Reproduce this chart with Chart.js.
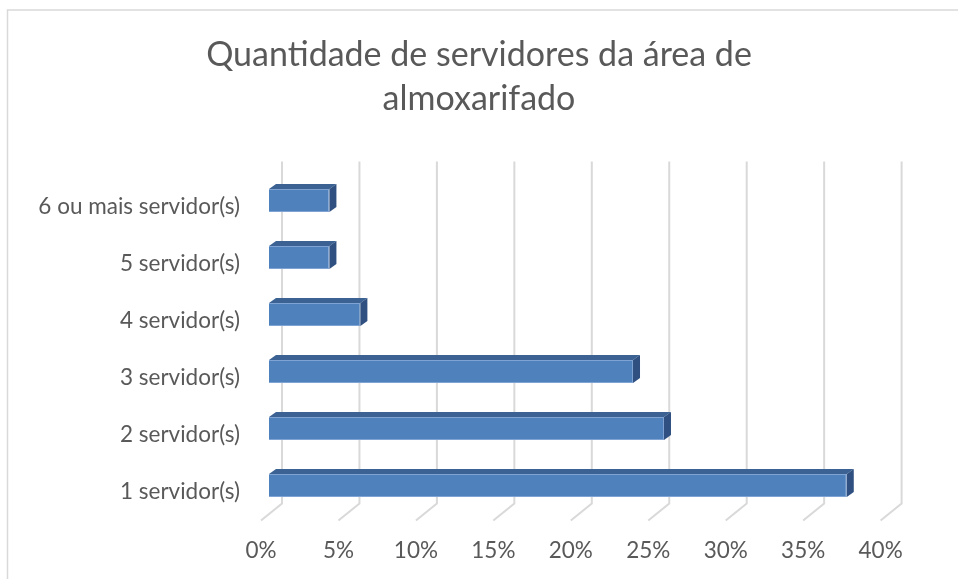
<!DOCTYPE html>
<html>
<head>
<meta charset="utf-8">
<script src="https://cdn.jsdelivr.net/npm/chart.js@4/dist/chart.umd.min.js"></script>
<style>
  html, body { margin: 0; padding: 0; background: #ffffff; }
  #wrap { width: 958px; height: 579px; position: relative; }
</style>
</head>
<body>
<div id="wrap"><canvas id="c" width="958" height="579"></canvas></div>
<script>
// ---- data ----
const categories = ['1 servidor(s)', '2 servidor(s)', '3 servidor(s)', '4 servidor(s)', '5 servidor(s)', '6 ou mais servidor(s)'];
const percentValues = [37.3, 25.5, 23.5, 5.9, 3.9, 3.9];
const xTickMin = 0;
const xTickMax = 40;
const xTickStep = 5;
const titleLines = ['Quantidade de servidores da área de', 'almoxarifado'];

// ---- style ----
const TEXT = '#595959';
const FONT = 'Lato, "Open Sans", "Noto Sans", sans-serif';
const BACK = { dx: 13, dy: -10.5 };   // back wall offset from bar plane
const FRONT = { dx: -8, dy: 6.5 };    // front edge offset from bar plane
const DEPTH = { dx: 7, dy: -5 };      // bar depth

const frame3d = {
  id: 'frame3d',
  beforeDraw(chart) {
    const ctx = chart.ctx;
    ctx.save();
    ctx.fillStyle = '#ffffff';
    ctx.fillRect(0, 0, chart.width, chart.height);
    ctx.strokeStyle = '#d9d9d9';
    ctx.lineWidth = 1.5;
    ctx.strokeRect(7.5, 10, 2000, 2000);
    ctx.restore();
  },
  beforeDatasetsDraw(chart) {
    const ctx = chart.ctx, x = chart.scales.x, a = chart.chartArea;
    ctx.save();
    ctx.strokeStyle = '#d9d9d9';
    ctx.lineWidth = 2;
    x.ticks.forEach(t => {
      const px = x.getPixelForValue(t.value);
      ctx.beginPath();
      ctx.moveTo(px + BACK.dx, a.top + BACK.dy);
      ctx.lineTo(px + BACK.dx, a.bottom + BACK.dy);
      ctx.lineTo(px + FRONT.dx, a.bottom + FRONT.dy);
      ctx.stroke();
    });
    ctx.restore();
  },
  afterDatasetsDraw(chart) {
    const ctx = chart.ctx;
    const meta = chart.getDatasetMeta(0);
    ctx.save();
    meta.data.forEach(bar => {
      const p = bar.getProps(['x', 'y', 'base', 'height'], true);
      const top = p.y - p.height / 2, bottom = p.y + p.height / 2;
      // top face
      ctx.fillStyle = '#3b6292';
      ctx.beginPath();
      ctx.moveTo(p.base, top);
      ctx.lineTo(p.x, top);
      ctx.lineTo(p.x + DEPTH.dx, top + DEPTH.dy);
      ctx.lineTo(p.base + DEPTH.dx, top + DEPTH.dy);
      ctx.closePath();
      ctx.fill();
      // side face
      ctx.fillStyle = '#2f5080';
      ctx.beginPath();
      ctx.moveTo(p.x, top);
      ctx.lineTo(p.x + DEPTH.dx, top + DEPTH.dy);
      ctx.lineTo(p.x + DEPTH.dx, bottom + DEPTH.dy);
      ctx.lineTo(p.x, bottom);
      ctx.closePath();
      ctx.fill();
    });
    ctx.restore();
  }
};

new Chart(document.getElementById('c'), {
  type: 'bar',
  data: {
    labels: categories,
    datasets: [{
      data: percentValues,
      backgroundColor: '#4f81bd',
      borderColor: '#7fa3d3',
      borderWidth: 1,
      categoryPercentage: 1,
      barPercentage: 0.403
    }]
  },
  options: {
    indexAxis: 'y',
    responsive: false,
    animation: false,
    layout: { padding: 0 },
    plugins: {
      legend: { display: false },
      tooltip: { enabled: false },
      title: {
        display: true,
        text: titleLines,
        color: TEXT,
        font: { family: FONT, size: 34, weight: 'normal', lineHeight: '44px' },
        padding: { top: 33, bottom: 51 }
      }
    },
    scales: {
      x: {
        min: xTickMin,
        max: xTickMax,
        grid: { display: false, drawTicks: false },
        border: { display: false },
        ticks: {
          stepSize: xTickStep,
          color: TEXT,
          font: { family: FONT, size: 22.5 },
          padding: 23,
          labelOffset: FRONT.dx,
          callback: v => v + '%'
        },
        afterFit(s) { s.height = 65; }
      },
      y: {
        reverse: true,
        grid: { display: false, drawTicks: false },
        border: { display: false },
        ticks: {
          color: TEXT,
          font: { family: FONT, size: 22.5 },
          padding: 29,
          labelOffset: FRONT.dy
        },
        afterFit(s) { s.width = 269; }
      },
      y2: {
        type: 'linear',
        position: 'right',
        display: true,
        grid: { display: false, drawTicks: false },
        border: { display: false },
        ticks: { display: false },
        afterFit(s) { s.width = 69.4; }
      }
    }
  },
  plugins: [frame3d]
});
</script>
</body>
</html>
